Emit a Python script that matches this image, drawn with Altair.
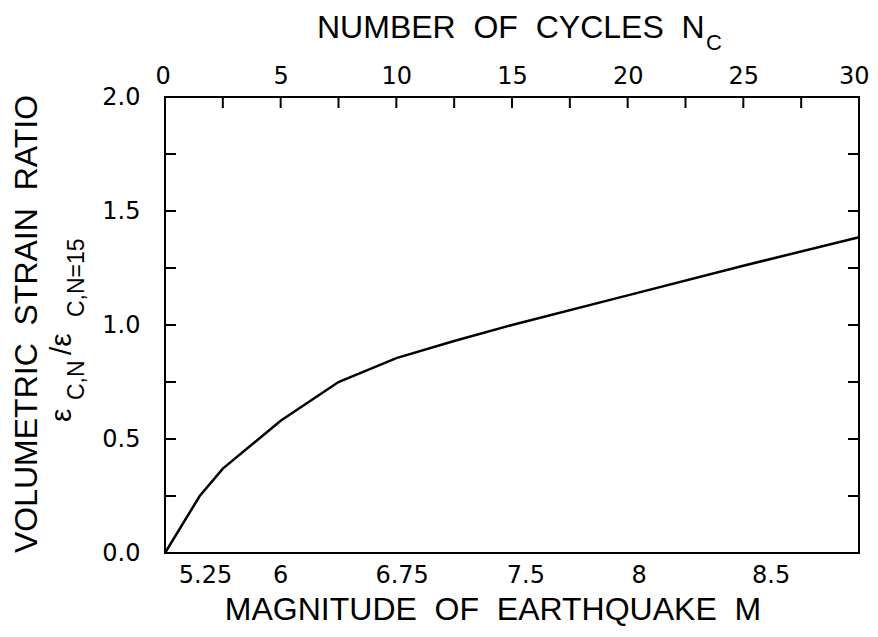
import altair as alt
import pandas as pd

# ---- data ----
cycles = [0, 1.5, 2.5, 5, 7.5, 10, 12.5, 15, 20, 25, 30]
strain_ratio = [0, 0.25, 0.37, 0.58, 0.75, 0.855, 0.93, 1.0, 1.13, 1.26, 1.385]

cycle_tick_values = [0, 5, 10, 15, 20, 25, 30]
ratio_tick_values = [0.0, 0.5, 1.0, 1.5, 2.0]
minor_cycle_ticks = [2.5, 5, 7.5, 10, 12.5, 15, 17.5, 20, 22.5, 25, 27.5]
minor_ratio_ticks = [0.25, 0.5, 0.75, 1.0, 1.25, 1.5, 1.75]

magnitude_labels = ["5.25", "6", "6.75", "7.5", "8", "8.5"]
magnitude_cycles = [1.75, 5, 10.25, 15.6, 20.5, 26.2]

GAP = "\u00a0\u00a0"
top_title = GAP.join(["NUMBER", "OF", "CYCLES", "N"])
top_title_sub = "C"
bottom_title = GAP.join(["MAGNITUDE", "OF", "EARTHQUAKE", "M"])
y_title = GAP.join(["VOLUMETRIC", "STRAIN", "RATIO"])

W, H = 694, 456
TICK = 11
LABEL_FONT = "DejaVu Sans"
TITLE_FONT = "Liberation Sans"

xs = alt.Scale(domain=[0, 30], nice=False, zero=False)
ys = alt.Scale(domain=[0, 2], nice=False, zero=False)

curve_df = pd.DataFrame({"n": cycles, "r": strain_ratio})

line = alt.Chart(curve_df).mark_line(color="black", strokeWidth=2.5).encode(
    x=alt.X("n:Q", scale=xs, axis=alt.Axis(
        orient="top", values=cycle_tick_values, title=None, grid=False,
        domain=False, tickSize=0, labelPadding=9, labelFlush=1,
        labelFlushOffset=10, labelOverlap=False, labelFont=LABEL_FONT,
        labelFontSize=24, labelColor="black")),
    y=alt.Y("r:Q", scale=ys, axis=alt.Axis(
        orient="left", values=ratio_tick_values, format=".1f", title=None,
        grid=False, domain=False, tickSize=0, labelPadding=25,
        labelFlush=False, labelOverlap=False, labelFont=LABEL_FONT,
        labelFontSize=24, labelColor="black")),
)

top_ticks = alt.Chart(pd.DataFrame({"n": minor_cycle_ticks})).mark_rule(
    color="black", strokeWidth=2).encode(
    x="n:Q", y=alt.value(0), y2=alt.value(TICK))

left_ticks = alt.Chart(pd.DataFrame({"r": minor_ratio_ticks})).mark_rule(
    color="black", strokeWidth=2).encode(
    y="r:Q", x=alt.value(0), x2=alt.value(TICK))

right_ticks = alt.Chart(pd.DataFrame({"r": minor_ratio_ticks})).mark_rule(
    color="black", strokeWidth=2).encode(
    y="r:Q", x=alt.value(W - TICK), x2=alt.value(W))

mag_df = pd.DataFrame({"n": magnitude_cycles, "m": magnitude_labels})
mag_labels = alt.Chart(mag_df).mark_text(
    font=LABEL_FONT, fontSize=24, color="black", baseline="top",
    align="center").encode(x="n:Q", y=alt.value(H + 11), text="m:N")


def txt(s, x, y, size, align="left", angle=0, font=TITLE_FONT):
    kw = dict(font=font, fontSize=size, color="black", align=align,
              baseline="alphabetic")
    if angle:
        kw["angle"] = angle
    return alt.Chart(pd.DataFrame({"t": [s]})).mark_text(**kw).encode(
        x=alt.value(x), y=alt.value(y), text="t:N")


titles = [
    txt(top_title, 152, -59, 32),
    txt(top_title_sub, 541, -47, 22),
    txt(bottom_title, 328, 523, 32, align="center"),
    txt(y_title, -128, 227, 32, align="center", angle=270),
    txt("ε", -94, 325, 30, angle=270),
    txt("C,N", -81, 303, 23, angle=270),
    txt("/ε", -94, 258, 30, angle=270),
    txt("C,N=15", -81, 220, 23, angle=270),
]

chart = alt.layer(line, top_ticks, left_ticks, right_ticks, mag_labels,
                  *titles).properties(
    width=W, height=H,
    autosize=alt.AutoSizeParams(type="none"),
    padding={"left": 157, "top": 89, "right": 11, "bottom": 76},
).configure_view(stroke="black", strokeWidth=2)

chart.save("out.html", embed_options={"renderer": "svg", "actions": False})
